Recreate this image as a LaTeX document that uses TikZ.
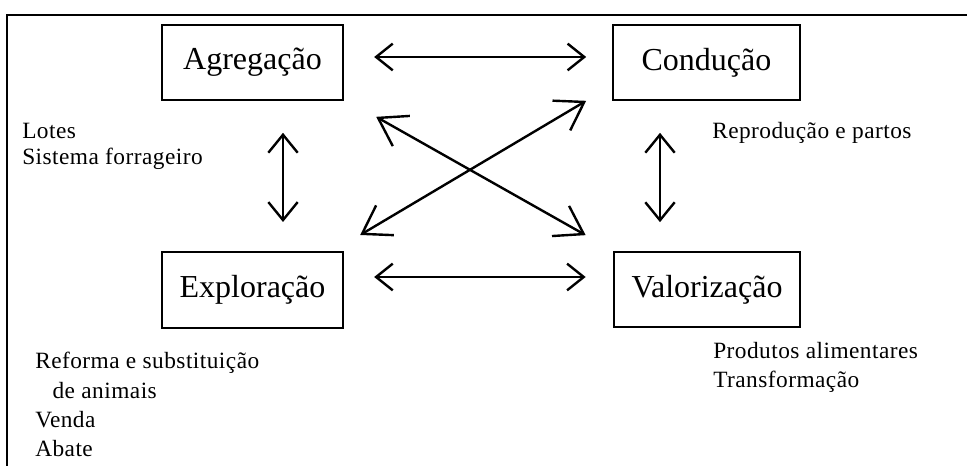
\documentclass[tikz,border=0pt]{standalone}
\usepackage{fontspec}
\setmainfont{Liberation Serif}
\newfontfamily\notefont[LetterSpace=2]{Liberation Serif}
\usetikzlibrary{arrows.meta}

\begin{document}
\begin{tikzpicture}[x=0.75pt,y=0.75pt,
  caixa/.style={draw,line width=1.5pt,minimum height=56pt,inner sep=0pt,
    font=\fontsize{24}{28}\selectfont},
  nota/.style={anchor=north west,inner sep=0pt,align=left,
    font=\notefont\fontsize{17.5}{19.5}\selectfont},
  notab/.style={nota,font=\notefont\fontsize{17.5}{22}\selectfont},
  seta/.style={line width=1.8pt,
    {Straight Barb[length=12.5pt,width=20pt]}-{Straight Barb[length=12.5pt,width=20pt]}},
  setav/.style={line width=1.8pt,
    {Straight Barb[length=13.5pt,width=22pt]}-{Straight Barb[length=13.5pt,width=22pt]}},
  setad/.style={line width=1.8pt,
    {Straight Barb[length=20pt,width=26pt]}-{Straight Barb[length=20pt,width=26pt]}}]
\useasboundingbox (0,0) rectangle (967,466);
% moldura
\draw[line width=1.5pt] (7,0) -- (7,451) -- (967,451);

% caixas
\node[caixa,minimum width=136pt] (agr) at (252.5,403.5) {Agregação};
\node[caixa,minimum width=140pt] (cond) at (706.5,403.5) {Condução};
\node[caixa,minimum width=136pt,minimum height=57pt] (expl) at (252.5,176) {Exploração};
\node[caixa,minimum width=140pt] (val) at (707,176.5) {Valorização};

% setas
\draw[seta] ([shift={(30,5.5)}]agr.east) -- ([shift={(-26,5.5)}]cond.west);
\draw[seta] ([shift={(30,13)}]expl.east) -- ([shift={(-27,12.5)}]val.west);
\draw[setav] ([shift={(30.5,-32)}]agr.south) -- ([shift={(30.5,29)}]expl.north);
\draw[setav] ([shift={(-46.5,-32)}]cond.south) -- ([shift={(-47,29)}]val.north);
\draw[setad] ([shift={(32,-16)}]agr.south east) -- ([shift={(-27,16)}]val.north west);
\draw[setad] ([shift={(16,16)}]expl.north east) -- ([shift={(-26,0)}]cond.south west);

% notas
\node[nota] (lotes) at (22,343.4) {Lotes\\Sistema forrageiro};
\node[nota] (repro) at (712,344) {Reprodução e partos};
\node[notab] (reforma) at (35,114) {Reforma e substituição\\\hspace*{13pt}de animais\\Venda\\Abate};
\node[notab] (prod) at (713,124) {Produtos alimentares\\Transformação};
\end{tikzpicture}
\end{document}
